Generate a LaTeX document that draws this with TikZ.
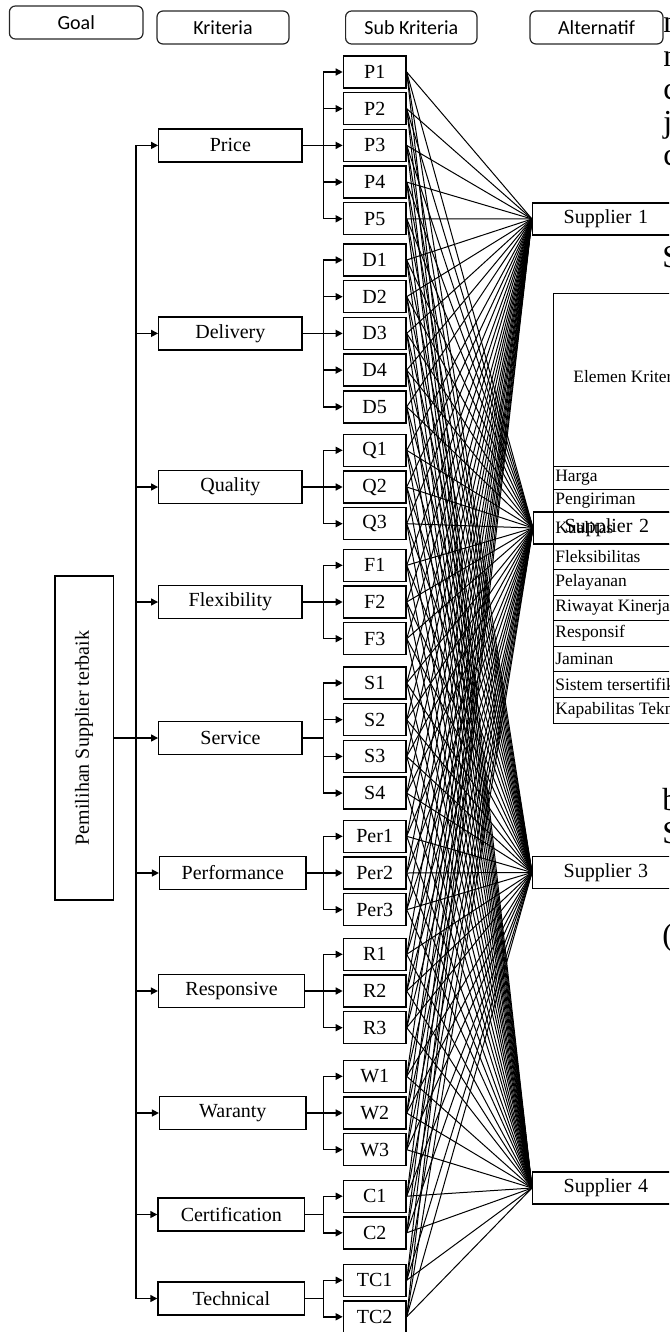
\documentclass[tikz,border=0pt]{standalone}
\usepackage{fontspec}
\setmainfont{Liberation Serif}
\newfontfamily\calibrifont{Carlito}
\usetikzlibrary{arrows.meta}
\begin{document}
\begin{tikzpicture}[x=0.5pt,y=-0.5pt,
  hdr/.style={draw=black!85, line width=0.6pt, rounded corners=3pt, minimum height=16.5pt, inner sep=0pt, font=\calibrifont\fontsize{10}{12}\selectfont},
  crit/.style={draw, line width=0.7pt, minimum height=16.5pt, inner sep=0pt, font=\fontsize{10}{12}\selectfont},
  subbox/.style={draw, line width=0.7pt, minimum width=31.3pt, minimum height=16pt, inner sep=0pt, font=\fontsize{10}{12}\selectfont},
  supbox/.style={draw, line width=0.7pt, anchor=west, minimum height=16pt, text width=68pt, align=left, inner xsep=15.5pt, inner ysep=0pt, font=\fontsize{10}{12}\selectfont},
  arr/.style={line width=0.7pt, -{Triangle[length=3.5pt,width=3.5pt]}},
  plain/.style={line width=0.7pt},
  link/.style={line width=0.5pt},
  tline/.style={line width=0.5pt},
  tcell/.style={anchor=west, inner sep=0pt, font=\fontsize{8.7}{10}\selectfont},
  frag/.style={anchor=base west, inner sep=0pt, font=\fontsize{16}{19}\selectfont}]
\useasboundingbox (0,0) rectangle (669,1332);
\clip (0,0) rectangle (669,1332);

% header boxes
\node[hdr, minimum width=66.8pt] (hgoal) at (76.2,22.5) {Goal};
\node[hdr, minimum width=66pt] (hkrit) at (223,27.5) {Kriteria};
\node[hdr, minimum width=65.7pt] (hsub) at (411.3,27.5) {Sub Kriteria};
\node[hdr, minimum width=66.5pt] (halt) at (596.5,27.5) {Alternatif};

% goal
\node[draw, line width=0.7pt, minimum width=29.2pt, minimum height=162pt, inner sep=0pt, font=\fontsize{10}{12}\selectfont] (goal) at (84,738) {\rotatebox{90}{Pemilihan Supplier terbaik}};

% criteria
\node[crit, minimum width=71.65pt] (price) at (230.4,145.4) {Price};
\node[crit, minimum width=71.65pt] (delivery) at (230.4,333.4) {Delivery};
\node[crit, minimum width=71.65pt] (quality) at (230.4,487) {Quality};
\node[crit, minimum width=71.65pt] (flex) at (230.4,602) {Flexibility};
\node[crit, minimum width=71.65pt] (service) at (230.4,738) {Service};
\node[crit, minimum width=73.2pt] (perf) at (232.8,873) {Performance};
\node[crit, minimum width=73pt] (resp) at (231.6,991) {Responsive};
\node[crit, minimum width=73.2pt] (war) at (232.8,1113) {Waranty};
\node[crit, minimum width=73.3pt] (cert) at (231.3,1214.5) {Certification};
\node[crit, minimum width=73.3pt] (tech) at (231.3,1298.5) {Technical};

% sub criteria
\foreach \n/\y in {P1/72,P2/108.7,P3/145.4,P4/182.1,P5/218.8,
  D1/260,D2/296.7,D3/333.4,D4/370.1,D5/406.8,
  Q1/450.3,Q2/487,Q3/523.7,
  F1/565.3,F2/602,F3/638.7,
  S1/683,S2/719.7,S3/756.4,S4/793.1,
  Per1/836.3,Per2/873,Per3/909.7,
  R1/954.3,R2/991,R3/1027.7,
  W1/1076.3,W2/1113,W3/1149.7,
  C1/1196.2,C2/1232.8,
  TC1/1280.2,TC2/1316.8}
  \node[subbox] (\n) at (374.7,\y) {\n};

% alternatives
\node[supbox] (sup1) at (532,219) {Supplier 1};
\node[supbox] (sup2) at (533,528) {Supplier 2};
\node[supbox] (sup3) at (532,872.5) {Supplier 3};
\node[supbox] (sup4) at (532,1188) {Supplier 4};

% links sub -> alternatives
\foreach \n in {P1,P2,P3,P4,P5,D1,D2,D3,D4,D5,Q1,Q2,Q3,F1,F2,F3,S1,S2,S3,S4,Per1,Per2,Per3,R1,R2,R3,W1,W2,W3,C1,C2,TC1,TC2}
  \foreach \a in {sup1,sup2,sup3,sup4}
    \draw[link] (\n.east) -- (\a.west);

% trunk
\coordinate (tx) at (136,0);
\draw[plain] (tx |- price.west) -- (tx |- tech.west);
\draw[arr] (goal.east) -- (service.west);
\foreach \c in {price,delivery,quality,flex,perf,resp,war,cert,tech}
  \draw[arr] (tx |- \c.west) -- (\c.west);

% forks
\coordinate (fx) at (323.4,0);
\foreach \c/\first/\last/\subs in {price/P1/P5/{P1,P2,P3,P4,P5},
  delivery/D1/D5/{D1,D2,D3,D4,D5},
  quality/Q1/Q3/{Q1,Q2,Q3},
  flex/F1/F3/{F1,F2,F3},
  service/S1/S4/{S1,S2,S3,S4},
  perf/Per1/Per3/{Per1,Per2,Per3},
  resp/R1/R3/{R1,R2,R3},
  war/W1/W3/{W1,W2,W3},
  cert/C1/C2/{C1,C2},
  tech/TC1/TC2/{TC1,TC2}}{
  \draw[plain] (\c.east) -- (fx |- \c.east);
  \draw[plain] (fx |- \first.west) -- (fx |- \last.west);
  \foreach \s in \subs
    \draw[arr] (fx |- \s.west) -- (\s.west);
}

% background table fragment
\draw[tline] (700,293) -- (553,293) -- (553,723) -- (700,723);
\foreach \yy in {466,489,512,544,569.6,595.1,620.7,646.3,671.9,697.4}
  \draw[tline] (553,\yy) -- (700,\yy);
\node[tcell] (th) at (573,377) {Elemen Kriteria};
\node[tcell] (t1) at (555,477.5) {Harga};
\node[tcell] (t2) at (555,500.5) {Pengiriman};
\node[tcell] (t3) at (555,528) {Kualitas};
\node[tcell] (t4) at (555,556.8) {Fleksibilitas};
\node[tcell] (t5) at (555,582.4) {Pelayanan};
\node[tcell] (t6) at (555,608) {Riwayat Kinerja};
\node[tcell] (t7) at (555,633.5) {Responsif};
\node[tcell] (t8) at (555,659) {Jaminan};
\node[tcell] (t9) at (555,684.7) {Sistem tersertifikasi};
\node[tcell] (t10) at (555,710.2) {Kapabilitas Teknis};

% background text fragments at right edge
\node[frag] (f1) at (663,33) {n};
\node[frag] (f2) at (663,67) {n};
\node[frag] (f3) at (663,100) {c};
\node[frag] (f4) at (663,133) {j};
\node[frag] (f5) at (663,166) {c};
\node[frag] (f6) at (662,268) {S};
\node[frag] (f7) at (662,810) {b};
\node[frag] (f8) at (662,843) {S};
\node[frag] (f9) at (662,945) {(};
\end{tikzpicture}
\end{document}
